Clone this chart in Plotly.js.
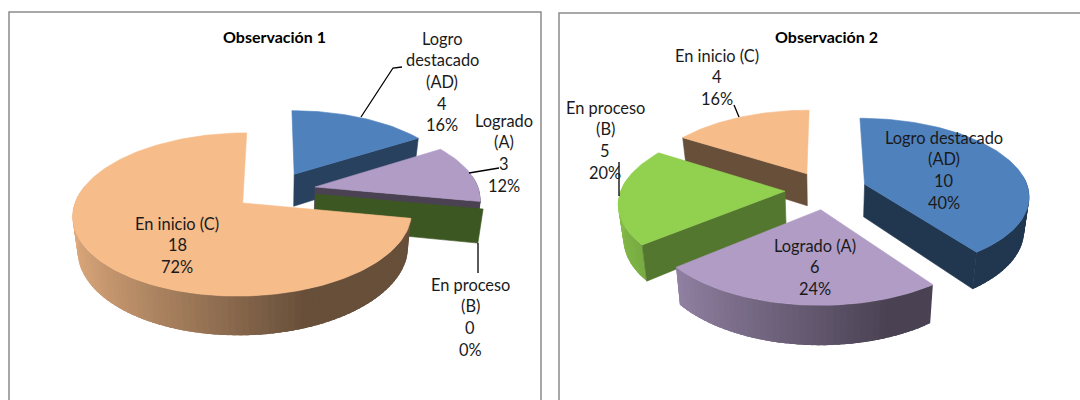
<!DOCTYPE html>
<html><head><meta charset="utf-8">
<script src="https://cdn.plot.ly/plotly-3.0.1.min.js"></script>
<style>html,body{margin:0;padding:0;background:#fff}#c{width:1080px;height:400px}</style>
</head><body><div id="c"></div>
<script>
// ---- data ----
const categories = ['Logro destacado (AD)', 'Logrado (A)', 'En proceso (B)', 'En inicio (C)'];
const values1 = [4, 3, 0, 18];
const values2 = [10, 6, 5, 4];
const title1 = 'Observación 1';
const title2 = 'Observación 2';
const nameLines1 = [['Logro', 'destacado', '(AD)'], ['Logrado', '(A)'], ['En proceso', '(B)'], ['En inicio (C)']];
const nameLines2 = [['Logro destacado', '(AD)'], ['Logrado (A)'], ['En proceso', '(B)'], ['En inicio (C)']];

// ---- styling and layout ----
const baseColors = [[79,129,189], [176,156,197], [146,208,80], [246,188,138]];
const wallShades1 = [0.5, 0.42, 0.42, 0.42];
const wallShades2 = [0.42, 0.42, 0.57, 0.42];
const labelPos1 = [[442,38], [504,120], [470,284], [177,223]];
const labelPos2 = [[944,137], [815,245], [605,107], [717,55]];
const leaders = [
  [[361,117],[393,68],[402,67]],
  [[469,173],[493,169],[499,168]],
  [[478,243],[478,273]],
  [[739,117],[734,105]],
  [[619,162],[619,196]]
];
const view = {A:164, B:76.5, k:0.138, depth:33, explode:0.25, baseScale:0.975};
const rad = d => d*Math.PI/180;
const rgb = (c,f) => `rgb(${c.map(v=>Math.round(v*f)).join(',')})`;
const traces = [];

function pieTraces(values, cx, cy, wallShades){
  const total = values.reduce((a,b)=>a+b,0);
  let acc = 0;
  const slices = values.map((v,i)=>{
    const a = acc/total*360; acc += v; const b = acc/total*360;
    const m = (a+b)/2;
    return {i, v, a, b, ou:view.explode*Math.sin(rad(m)), ov:view.explode*Math.cos(rad(m))};
  });
  const top = (u,v)=>{ const s = 1/(1+view.k*v); return [cx+view.A*u*s, cy-view.B*v*s, s]; };
  const bottom = (u,v)=>{ const p = top(u,v); return [cx+(p[0]-cx)*view.baseScale, p[1]+view.depth*p[2]]; };
  const add = (pts,color,name,text,lw)=>traces.push({type:'scatter',mode:'lines',x:pts.map(p=>p[0]),y:pts.map(p=>p[1]),
    fill:'toself',fillcolor:color,line:{color:color,width:lw},hoverinfo:text?'text':'skip',text:text,showlegend:false,name:name});
  slices.sort((p,q)=>q.ov-p.ov).forEach(sl=>{
    const col = baseColors[sl.i], name = categories[sl.i];
    const hover = `${name}: ${sl.v}`;
    const rimAt = t=>[sl.ou+Math.sin(rad(t)), sl.ov+Math.cos(rad(t))];
    // outer rim, shaded strip by strip; each strip overlaps the next to hide seams
    const step = 2;
    const rimStrips = [];
    for(let t=sl.a;t<sl.b;t+=step){
      const tm=t+step/2;
      if(Math.cos(rad(tm))>0.15) continue;
      rimStrips.push(t);
    }
    rimStrips.forEach(t=>{
      const t2 = Math.min(t+step*2.5,sl.b), tm=t+step/2;
      const mid = [];
      for(let q=t;q<t2;q+=0.5) mid.push(rimAt(q));
      mid.push(rimAt(t2));
      const ux = Math.sin(rad(tm));
      const f = Math.max(0.42, 0.42+0.48*(0.35-ux)/1.35);
      const pts = mid.map(p=>top(p[0],p[1])).concat(mid.slice().reverse().map(p=>bottom(p[0],p[1])));
      pts.push(pts[0]);
      add(pts, rgb(col,f), name, null, 0);
    });
    // radial walls that face the viewer
    const wall = t=>{
      const [u,v]=rimAt(t);
      add([top(sl.ou,sl.ov),top(u,v),bottom(u,v),bottom(sl.ou,sl.ov),top(sl.ou,sl.ov)], rgb(col,wallShades[sl.i]), name, hover, 0.6);
    };
    if(Math.sin(rad(sl.a))<-0.01) wall(sl.a);
    if(Math.sin(rad(sl.b))>0.01) wall(sl.b);
    // top face
    if(sl.v>0){
      const pts=[top(sl.ou,sl.ov)];
      for(let t=sl.a;t<sl.b;t+=1.5){ const [u,v]=rimAt(t); pts.push(top(u,v)); }
      const [u,v]=rimAt(sl.b); pts.push(top(u,v)); pts.push(top(sl.ou,sl.ov));
      add(pts, rgb(col,1), name, hover, 0.6);
    }
  });
}
pieTraces(values1, 275, 190.5, wallShades1);
pieTraces(values2, 826, 190, wallShades2);

// ---- text ----
const fontFam = 'Lato, "Open Sans", sans-serif';
const annotations = [];
const put = (x,y,text,size,color)=>annotations.push({xref:'x',yref:'y',x,y,text,showarrow:false,xanchor:'center',yanchor:'middle',
  font:{family:fontFam,size,color}});
function labels(values,nameLines,pos){
  const total = values.reduce((a,b)=>a+b,0);
  values.forEach((v,i)=>{
    const lines=[...nameLines[i], String(v), Math.round(v/total*100)+'%'];
    lines.forEach((ln,j)=>put(pos[i][0], pos[i][1]+j*21.7, ln, 16.4, '#1a1a1a'));
  });
}
labels(values1,nameLines1,labelPos1);
labels(values2,nameLines2,labelPos2);
put(274,36,'<b>'+title1+'</b>',16,'#000');
put(826,36,'<b>'+title2+'</b>',16,'#000');

// ---- leader lines and frames ----
leaders.forEach(l=>traces.push({type:'scatter',mode:'lines',x:l.map(p=>p[0]),y:l.map(p=>p[1]),
  line:{color:'#000',width:1.3},hoverinfo:'skip',showlegend:false}));
const frame = (x0,x1,y0)=>({type:'rect',xref:'x',yref:'y',x0,x1,y0,y1:420,line:{color:'#8c8c8c',width:1.5},fillcolor:'rgba(0,0,0,0)',layer:'below'});

Plotly.newPlot('c',traces,{
  width:1080,height:400,margin:{l:0,r:0,t:0,b:0},paper_bgcolor:'#fff',plot_bgcolor:'#fff',showlegend:false,
  xaxis:{range:[0,1080],visible:false,fixedrange:true},
  yaxis:{range:[400,0],visible:false,fixedrange:true},
  shapes:[frame(9,541,12),frame(559,1100,13)],
  annotations
},{displayModeBar:false});
</script></body></html>
